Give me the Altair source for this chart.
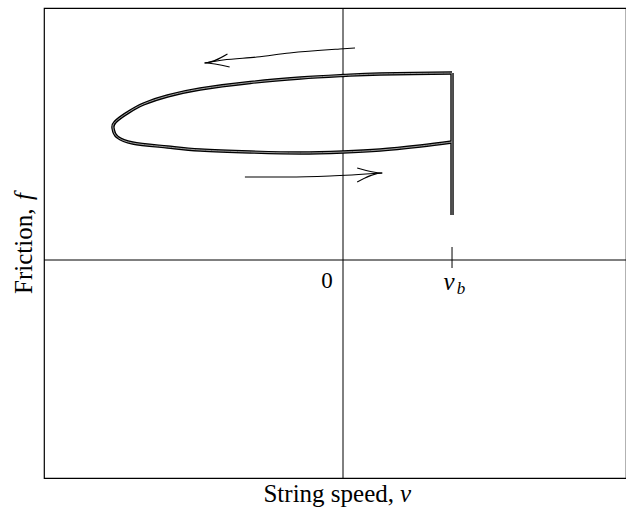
import altair as alt
import pandas as pd

# Friction vs. string speed: hysteresis loop of a bowed string.
# Speed is measured in units of the breakaway speed v_b, friction in arbitrary units.
V_B = 1.0
V_DOMAIN = [-2.743, 2.596]
F_DOMAIN = [-2.18, 2.52]

# Straight rise at v_b (sticking)
rise_v = [1.00, 1.00]
rise_f = [0.45, 1.87]

# Curved part of the loop: slip branch to the left, return branch back to v_b
loop_v = [1.00, 0.34, 0.00, -0.39, -0.85, -1.31, -1.61, -1.83, -1.98,
          -2.09, -2.11, -2.07, -1.93, -1.61, -1.31, -0.85, -0.39, 0.00, 0.34, 0.71, 1.00]
loop_f = [1.87, 1.86, 1.845, 1.82, 1.775, 1.71, 1.64, 1.56, 1.47,
          1.38, 1.32, 1.23, 1.17, 1.13, 1.10, 1.08, 1.07, 1.08, 1.10, 1.14, 1.18]

# Direction arrows (shaft + head) drawn above and below the loop
upper_shaft_v = [0.11, -0.03, -0.49, -0.79, -1.10, -1.27]
upper_shaft_f = [2.12, 2.11, 2.07, 2.03, 2.00, 1.97]
upper_head_v = [-1.06, -1.27, -1.04]
upper_head_f = [2.06, 1.97, 1.93]

lower_shaft_v = [-0.90, -0.51, -0.12, 0.36]
lower_shaft_f = [0.83, 0.83, 0.84, 0.87]
lower_head_v = [0.13, 0.36, 0.13]
lower_head_f = [0.92, 0.87, 0.78]

# Small tick marking v_b on the speed axis
tick_f = [0.13, -0.08]

rise_df = pd.DataFrame({"v": rise_v, "f": rise_f, "i": range(len(rise_v))})
loop_df = pd.DataFrame({"v": loop_v, "f": loop_f, "i": range(len(loop_v))})

arrow_rows = []
for name, vs, fs in [("upper_shaft", upper_shaft_v, upper_shaft_f),
                     ("upper_head", upper_head_v, upper_head_f),
                     ("lower_shaft", lower_shaft_v, lower_shaft_f),
                     ("lower_head", lower_head_v, lower_head_f)]:
    for k, (v, f) in enumerate(zip(vs, fs)):
        arrow_rows.append({"piece": name, "v": v, "f": f, "i": k})
arrow_df = pd.DataFrame(arrow_rows)

xs = alt.Scale(domain=V_DOMAIN, nice=False, zero=False)
ys = alt.Scale(domain=F_DOMAIN, nice=False, zero=False)
X = lambda: alt.X("v:Q", scale=xs, axis=None)
Y = lambda: alt.Y("f:Q", scale=ys, axis=None)

SERIF = "Liberation Serif"
TITLE_SIZE = 25

zero_v = alt.Chart(pd.DataFrame({"v": [0.0]})).mark_rule(
    color="black", strokeWidth=1).encode(x=X())
zero_f = alt.Chart(pd.DataFrame({"f": [0.0]})).mark_rule(
    color="black", strokeWidth=1).encode(y=Y())

vb_tick = alt.Chart(pd.DataFrame({"v": [V_B], "f": [tick_f[0]], "f2": [tick_f[1]]})).mark_rule(
    color="black", strokeWidth=1).encode(x=X(), y=Y(), y2="f2:Q")


def double_line(df, interp):
    outer = alt.Chart(df).mark_line(
        color="black", strokeWidth=3.4, strokeJoin="round", interpolate=interp).encode(
        x=X(), y=Y(), order="i:Q")
    inner = alt.Chart(df).mark_line(
        color="#b0b0b0", strokeWidth=0.9, strokeJoin="round", interpolate=interp).encode(
        x=X(), y=Y(), order="i:Q")
    return outer, inner


rise_outer, rise_inner = double_line(rise_df, "linear")
loop_outer, loop_inner = double_line(loop_df, "cardinal")

arrows = alt.Chart(arrow_df).mark_line(
    color="black", strokeWidth=1.1, interpolate="monotone").encode(
    x=X(), y=Y(), detail="piece:N", order="i:Q")

zero_label = alt.Chart(pd.DataFrame({"v": [0.0], "f": [0.0], "t": ["0"]})).mark_text(
    font=SERIF, fontSize=23, align="center", baseline="alphabetic",
    dx=-16, dy=28, color="black").encode(x=X(), y=Y(), text="t:N")
vb_label_v = alt.Chart(pd.DataFrame({"v": [V_B], "f": [0.0], "t": ["v"]})).mark_text(
    font=SERIF, fontSize=25, fontStyle="italic", align="center", baseline="alphabetic",
    dx=-3, dy=30, color="black").encode(x=X(), y=Y(), text="t:N")
vb_label_b = alt.Chart(pd.DataFrame({"v": [V_B], "f": [0.0], "t": ["b"]})).mark_text(
    font=SERIF, fontSize=17, fontStyle="italic", align="center", baseline="alphabetic",
    dx=9, dy=34, color="black").encode(x=X(), y=Y(), text="t:N")

# Axis titles, set in pieces so the symbols can be italic
x_title_a = alt.Chart(pd.DataFrame({"t": ["String speed,"]})).mark_text(
    font=SERIF, fontSize=TITLE_SIZE, align="right", baseline="alphabetic", color="black").encode(
    x=alt.value(350), y=alt.value(494), text="t:N")
x_title_b = alt.Chart(pd.DataFrame({"t": ["v"]})).mark_text(
    font=SERIF, fontSize=TITLE_SIZE, fontStyle="italic", align="left", baseline="alphabetic",
    color="black").encode(x=alt.value(356), y=alt.value(494), text="t:N")
y_title_a = alt.Chart(pd.DataFrame({"t": ["Friction,"]})).mark_text(
    font=SERIF, fontSize=TITLE_SIZE, angle=270, align="left", baseline="alphabetic",
    color="black").encode(x=alt.value(-12), y=alt.value(286), text="t:N")
y_title_b = alt.Chart(pd.DataFrame({"t": ["f"]})).mark_text(
    font=SERIF, fontSize=TITLE_SIZE, fontStyle="italic", angle=270, align="left",
    baseline="alphabetic", color="black").encode(
    x=alt.value(-12), y=alt.value(192), text="t:N")

chart = alt.layer(
    zero_v, zero_f, vb_tick, rise_outer, loop_outer, rise_inner, loop_inner, arrows,
    zero_label, vb_label_v, vb_label_b,
    x_title_a, x_title_b, y_title_a, y_title_b,
).properties(
    width=582, height=470,
    autosize=alt.AutoSizeParams(type="none"),
    padding={"left": 44, "top": 8, "right": 0, "bottom": 36},
    background="white",
).configure_view(stroke="black", strokeWidth=1.2)

chart.save("out.html", embed_options={"renderer": "svg", "actions": False})
